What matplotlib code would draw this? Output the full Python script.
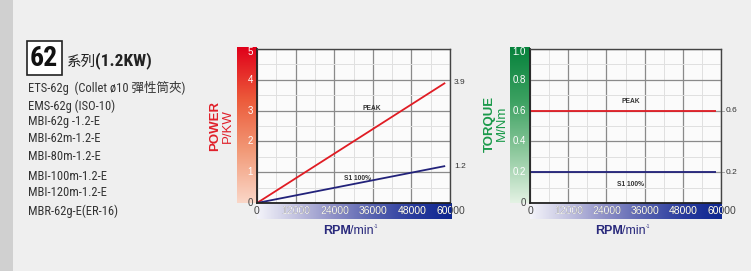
import numpy as np
import matplotlib
matplotlib.use("Agg")
import matplotlib.pyplot as plt
from matplotlib import font_manager as fm
from matplotlib.colors import LinearSegmentedColormap
import matplotlib.transforms as mtrans

# ---------------- data ----------------
rpm = [0, 58500]
power_peak = [0, 3.9]
power_s1 = [0, 1.2]
torque_peak = [0.6, 0.6]
torque_s1 = [0.2, 0.2]
x_ticks = [0, 12000, 24000, 36000, 48000, 60000]
x_ticklabels = ["0", "12000", "24000", "36000", "48000", "60000"]
power_ticks = [0, 1, 2, 3, 4, 5]
torque_ticks = [0, 0.2, 0.4, 0.6, 0.8, 1.0]
torque_ticklabels = ["0", "0.2", "0.4", "0.6", "0.8", "1.0"]
title_num = "62"
title_rest = "系列"
title_kw = "(1.2KW)"
models = ["ETS-62g  (Collet ø10 彈性筒夾)", "EMS-62g (ISO-10)", "MBI-62g -1.2-E",
          "MBI-62m-1.2-E", "MBI-80m-1.2-E", "MBI-100m-1.2-E", "MBI-120m-1.2-E",
          "MBR-62g-E(ER-16)"]

names = {f.name for f in fm.fontManager.ttflist}
NARROW = None
for cand in ["Liberation Sans Narrow", "Roboto Condensed", "DejaVu Sans Condensed"]:
    if cand in names:
        NARROW = cand
        break
STRETCH = "normal"
if NARROW is None:
    cond = [f for f in fm.fontManager.ttflist
            if f.name in ("Roboto", "DejaVu Sans", "Liberation Sans")
            and ("ondensed" in f.fname or "arrow" in f.fname)]
    if cond:
        NARROW = cond[0].name
        STRETCH = "condensed"
    else:
        NARROW = "Liberation Sans"
SANS = "Liberation Sans"
CJK = "Noto Sans CJK TC"
LIST_SIZE = 9.0 if STRETCH == "condensed" or NARROW != "Liberation Sans" else 8.4

W, H = 751, 271
fig = plt.figure(figsize=(W / 100, H / 100), dpi=100)
fig.patch.set_facecolor("#efefef")


def fr(x0, y0, x1, y1):
    """pixel box (top-left origin) -> figure fraction rect"""
    return [x0 / W, 1 - y1 / H, (x1 - x0) / W, (y1 - y0) / H]


# left gray strip
fig.add_artist(plt.Rectangle((0, 0), 13 / W, 1, transform=fig.transFigure,
                             fc="#d0d0d0", ec="none"))

# ---------------- left text ----------------
fig.text(30 / W, 1 - 58 / H, title_num, fontsize=20, fontweight="bold",
         family=[NARROW, CJK], fontstretch=STRETCH, va="center", ha="left", color="#111111",
         bbox=dict(boxstyle="square,pad=0.12", fc="white", ec="#222222", lw=1.2))
fig.text(67 / W, 1 - 62 / H, title_rest, fontsize=10.5, family=[CJK],
         va="center", ha="left", color="#222222")
fig.text(95 / W, 1 - 61 / H, title_kw, fontsize=12.5, fontweight="bold",
         family=[NARROW, CJK], fontstretch=STRETCH, va="center", ha="left", color="#222222")
ys = [88, 106, 122, 139, 157, 176, 193, 211]
for y, m in zip(ys, models):
    fig.text(28 / W, 1 - y / H, m, fontsize=LIST_SIZE, family=[NARROW, CJK],
             fontstretch=STRETCH, va="center", ha="left", color="#333333")


def grad_axes(rect, colors, vertical=True):
    a = fig.add_axes(rect)
    cmap = LinearSegmentedColormap.from_list("g", colors)
    g = np.linspace(0, 1, 256)
    img = g[:, None] if vertical else g[None, :]
    a.imshow(img, cmap=cmap, aspect="auto", origin="lower",
             extent=[0, 1, 0, 1] if vertical else [0, 60000, 0, 1])
    a.set_axis_off()
    return a


def make_chart(px0, px1, ylim, yticks, ylabels, ycolors, peak, s1, endlabels,
               title1, title2, tcolor, tx1, tx2, peak_pos, s1_pos, minor_y, tickmark):
    top, bot = 49, 203
    # y gradient strip
    grad_axes(fr(px0 - 20, top - 2, px0, bot), ycolors, vertical=True)
    # x gradient strip
    axs = grad_axes(fr(px0, bot, px1 + 1, 219),
                    ["#f4f4fa", "#c2c2e0", "#8c8ec6", "#5662b0", "#2a3c9e", "#0d2690"],
                    vertical=False)
    axs.set_xlim(0, 60000)
    axs.set_ylim(0, 1)
    for xv, lab in zip(x_ticks, x_ticklabels):
        axs.text(xv, 0.5, lab, ha="center", va="center", fontsize=7.5, family=SANS,
                 color="#444444", clip_on=False)
        if xv != 0:
            axs.text(xv, 0.5, lab, ha="center", va="center", fontsize=7.5, family=SANS,
                     color="white", clip_on=True)

    ax = fig.add_axes(fr(px0, top, px1, bot))
    ax.set_facecolor("#fbfbfb")
    ax.set_xlim(0, 60000)
    ax.set_ylim(*ylim)
    ax.set_xticks(x_ticks)
    ax.set_xticks(np.arange(0, 60001, 6000), minor=True)
    ax.set_yticks(yticks)
    ax.set_yticks(minor_y, minor=True)
    ax.grid(which="major", color="#8a8a8a", lw=0.9)
    ax.grid(which="minor", color="#e0e0e0", lw=0.7)
    ax.set_axisbelow(True)
    ax.tick_params(which="both", length=0, labelbottom=False, labelleft=False)
    for sp in ax.spines.values():
        sp.set_color("#444444")
        sp.set_linewidth(1.0)
    ax.spines["bottom"].set_color("#222222")
    ax.spines["bottom"].set_linewidth(1.3)
    ax.spines["left"].set_color("#222222")
    ax.spines["left"].set_linewidth(1.3)

    ax.plot(rpm, peak, color="#e01c24", lw=1.3, solid_capstyle="butt")
    ax.plot(rpm, s1, color="#22227a", lw=1.3, solid_capstyle="butt")

    trans = mtrans.blended_transform_factory(ax.transAxes, ax.transData)
    for v, lab in zip([peak[-1], s1[-1]], endlabels):
        if tickmark:
            ax.plot([58500, 61000], [v, v], color="#999999", lw=0.6, clip_on=False)
        ax.text(1.02 if not tickmark else 1.025, v, lab, transform=trans, fontsize=6,
                family=SANS, color="#333333", va="center", ha="left")
    ax.text(*peak_pos, "PEAK", fontsize=4.8, fontweight="bold", family=SANS,
            color="#333333", ha="center", va="center")
    ax.text(*s1_pos, "S1 100%", fontsize=4.8, fontweight="bold", family=SANS,
            color="#333333", ha="center", va="center")

    # y tick labels (white inside strip, 0 dark)
    ytr = mtrans.blended_transform_factory(ax.transAxes, ax.transData)
    span = ylim[1] - ylim[0]
    for v, lab in zip(yticks, ylabels):
        vv = v - 0.02 * span if v == ylim[1] else v
        ax.text(-0.02, vv, lab, transform=ytr, fontsize=7, family=SANS,
                color="#444444" if v == 0 else "white", ha="right", va="center")

    # y titles
    fig.text(tx1[0] / W, 1 - tx1[1] / H, title1, rotation=90, fontsize=9.5,
             fontweight="bold", family=SANS, color=tcolor, ha="center", va="center")
    fig.text(tx2[0] / W, 1 - tx2[1] / H, title2, rotation=90, fontsize=9.5,
             family=SANS, color=tcolor, ha="center", va="center")

    # x title
    cx = (px0 + px1) / 2 - 3
    fig.text(cx / W, 1 - 231 / H, "RPM", fontsize=9, fontweight="bold", family=SANS,
             color="#2a2a7c", ha="right", va="center")
    fig.text(cx / W, 1 - 231 / H, "/min", fontsize=9, family=SANS,
             color="#2a2a7c", ha="left", va="center")
    fig.text((cx + 23) / W, 1 - 227 / H, "-1", fontsize=3.5, family=SANS,
             color="#2a2a7c", ha="left", va="center")
    return ax


make_chart(257, 450, (0, 5), power_ticks, [str(v) for v in power_ticks],
           ["#fad7c8", "#f29a78", "#ec5a3a", "#e0001a"],
           power_peak, power_s1, ["3.9", "1.2"], "POWER", "P/KW", "#e0202a",
           (215, 126), (228, 126), (35750, 3.08), (31100, 0.81),
           np.arange(0, 5.01, 0.5), False)

make_chart(530, 721, (0, 1.0), torque_ticks, torque_ticklabels,
           ["#e4f2e4", "#8cc89c", "#3aa060", "#07823c"],
           torque_peak, torque_s1, ["0.6", "0.2"], "TORQUE", "M/Nm", "#1a9a4a",
           (490, 124), (502, 123), (31700, 0.656), (31700, 0.117),
           np.arange(0, 1.001, 0.1), True)

fig.savefig("out.png", dpi=100, facecolor=fig.get_facecolor())
